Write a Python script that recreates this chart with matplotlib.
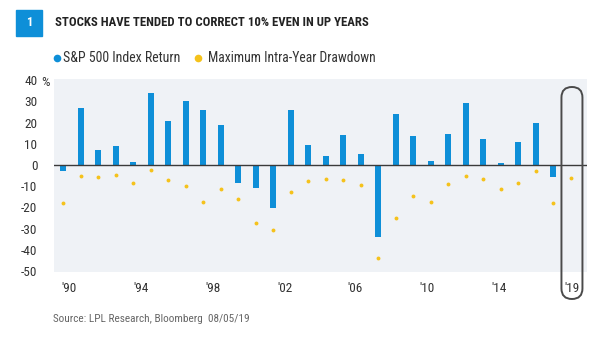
import matplotlib
matplotlib.use('Agg')
import matplotlib.pyplot as plt
from matplotlib.patches import FancyBboxPatch, Rectangle
from matplotlib.lines import Line2D

# data
years = list(range(1990, 2020))
sp500_return = [-3, 27, 7, 9, 1.3, 34, 20.7, 30.2, 25.8, 19,
                -8.3, -11, -20.1, 26, 9.6, 4.2, 14.1, 5, -33.8, 24,
                13.7, 1.7, 14.5, 29.4, 12.4, 1.1, 10.8, 19.8, -5.5, None]
max_drawdown = [-18, -5.2, -5.8, -4.7, -8.3, -2.2, -7.1, -9.9, -17.6, -11.2,
                -15.9, -27.2, -30.8, -12.9, -7.5, -6.6, -6.9, -9.4, -43.9, -25.2,
                -14.5, -17.6, -9.0, -5.2, -6.8, -11.3, -8.7, -2.7, -18.1, -6.1]
ytick_vals = [40, 30, 20, 10, 0, -10, -20, -30, -40, -50]
xtick_labels = ["'90", "'94", "'98", "'02", "'06", "'10", "'14", "'19"]
xtick_pos = [1990.35, 1994.45, 1998.55, 2002.65, 2006.7, 2010.8, 2014.9, 2019.05]

BLUE = '#0E8FD8'
YELLOW = '#F5C21B'
BG = '#EFF2F6'
TXT = '#333333'
FONT = ['Roboto Condensed', 'DejaVu Sans']

W, H = 605, 341
fig = plt.figure(figsize=(W / 100, H / 100), dpi=100)
fig.patch.set_facecolor('white')

# axes in pixel box: left 54, right 587, top 79, bottom 272
ax = fig.add_axes([54 / W, 1 - 272 / H, (587 - 54) / W, (272 - 79) / H])
ax.set_facecolor(BG)
for s in ax.spines.values():
    s.set_visible(False)

bx = [y for y, v in zip(years, sp500_return) if v is not None]
bv = [v for v in sp500_return if v is not None]
ax.bar(bx, bv, width=0.32, color=BLUE, zorder=3)
ax.plot(years, max_drawdown, 'o', color=YELLOW, markersize=2.8,
        markeredgewidth=0, zorder=3)
ax.axhline(0, color='#3a3a3a', lw=1.0, zorder=4)

ax.set_xlim(1989.47, 2019.93)
ax.set_ylim(-50.5, 40.6)

ax.set_yticks(ytick_vals)
ax.set_yticklabels([str(v) for v in ytick_vals], family=FONT, fontsize=9.5, color=TXT)
ax.tick_params(axis='y', length=0, pad=12)
ax.set_xticks(xtick_pos)
ax.set_xticklabels(xtick_labels, family=FONT, fontsize=9.5, color=TXT)
ax.tick_params(axis='x', length=0, pad=7)
# percent sign after the top label
yp = ax.transAxes.inverted().transform(ax.transData.transform((1990, 39.5)))[1]
ax.text(-12.5 / (587 - 54), yp, '%', transform=ax.transAxes, ha='left',
        va='center_baseline', family=FONT, fontsize=9.5, color=TXT)

# highlight around 2019
fig.canvas.draw()
cx = ax.transData.transform((2019.07, 0))[0]
top_px = H - 87
bot_px = H - 299
hw = 10.5
box = FancyBboxPatch((cx - hw, bot_px), 2 * hw, top_px - bot_px,
                     boxstyle='round,pad=0,rounding_size=10.5',
                     transform=None, fill=False, edgecolor='#4a4a4a', lw=1.4,
                     zorder=5, clip_on=False)
fig.patches.append(box)

# title block
fig.patches.append(Rectangle((16 / W, 1 - 36 / H), 26 / W, 26 / H,
                             transform=fig.transFigure, color=BLUE))
fig.text(29 / W, 1 - 23 / H, '1', ha='center', va='center', color='white',
         fontsize=9, fontweight='bold', family=FONT)
fig.text(55 / W, 1 - 23 / H, 'STOCKS HAVE TENDED TO CORRECT 10% EVEN IN UP YEARS',
         ha='left', va='center', color='#222222', fontsize=9.2, fontweight='bold',
         family=FONT)

# legend
for xp, col in [(57, BLUE), (198, YELLOW)]:
    fig.lines.append(Line2D([xp / W], [1 - 58 / H], transform=fig.transFigure,
                            marker='o', markersize=5.5, color=col, markeredgewidth=0))
fig.text(63 / W, 1 - 58 / H, 'S&P 500 Index Return', ha='left', va='center',
         color=TXT, fontsize=10, family=FONT)
fig.text(208 / W, 1 - 58 / H, 'Maximum Intra-Year Drawdown', ha='left', va='center',
         color=TXT, fontsize=9.8, family=FONT)

# source
fig.text(53 / W, 1 - 319 / H, 'Source: LPL Research, Bloomberg  08/05/19', ha='left',
         va='center', color='#666666', fontsize=8.1, family=FONT)

fig.savefig('out.png', dpi=100)
